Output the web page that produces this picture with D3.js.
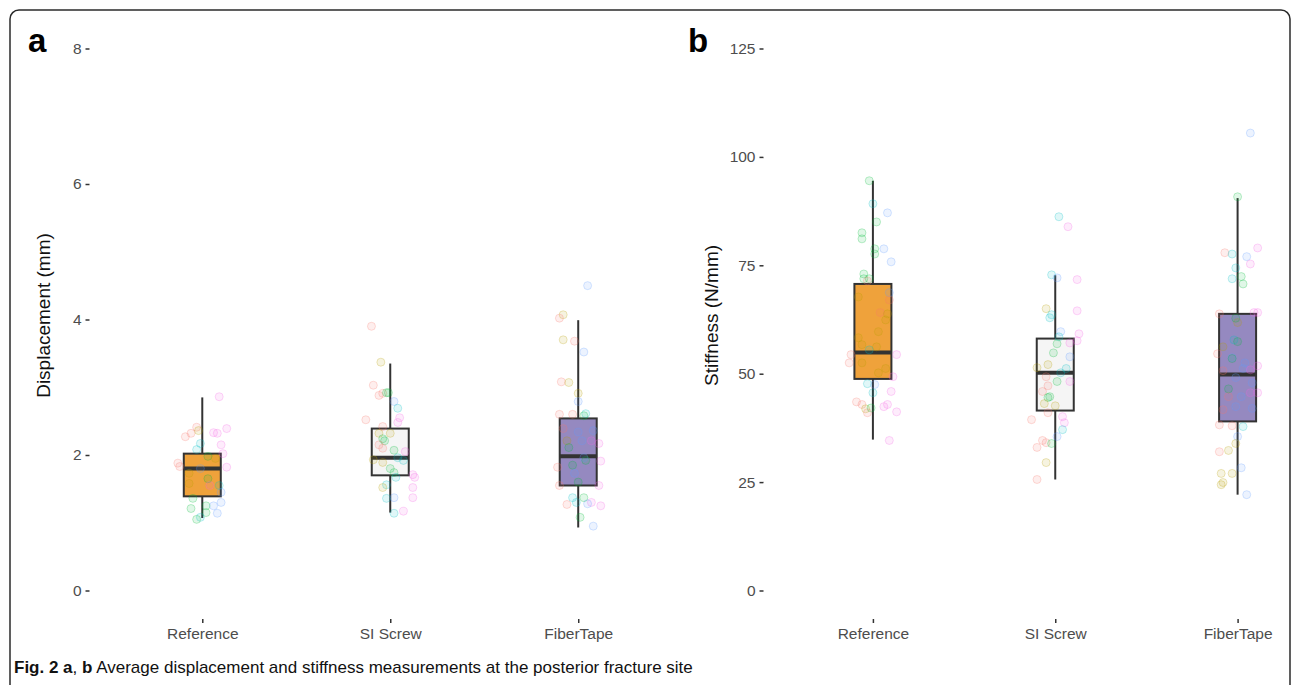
<!DOCTYPE html>
<html>
<head>
<meta charset="utf-8">
<script src="https://cdn.jsdelivr.net/npm/d3@7"></script>
<style>
  body { margin: 0; background: #fff; }
  svg { display: block; font-family: "Liberation Sans", Arial, sans-serif; }
</style>
</head>
<body>
<svg id="chart" width="1292" height="685"></svg>
<script>
const groups = ["Reference", "SI Screw", "FiberTape"];
const groupFills = ["#efa23b", "#f5f5f5", "#9589c0"];
const pointColors = ["#F8766D", "#B79F00", "#00BA38", "#00BFC4", "#619CFF", "#F564E3"];

const displacementTicks = [0, 2, 4, 6, 8];
const stiffnessTicks = [0, 25, 50, 75, 100, 125];

// box stats: [lower whisker, q1, median, q3, upper whisker]
const displacementBoxes = [
  [1.07, 1.39, 1.80, 2.02, 2.85],
  [1.15, 1.70, 1.96, 2.39, 3.35],
  [0.93, 1.55, 1.98, 2.54, 3.99]
];
const stiffnessBoxes = [
  [34.8, 48.8, 54.9, 70.7, 94.5],
  [25.6, 41.5, 50.2, 58.1, 72.7],
  [22.1, 39.0, 49.8, 63.8, 90.5]
];

// points: [value, jitter (share of category step), colour index]
const displacementReference = [
  [2.86, .09, 5], [2.41, -.03, 0], [2.27, -.09, 0], [2.32, -.06, 0], [2.36, -.02, 1],
  [2.33, .06, 5], [2.32, .08, 5], [2.39, .13, 5], [2.17, -.01, 3], [2.15, .10, 5],
  [2.08, -.03, 3], [2.02, .11, 5], [1.98, .03, 2], [1.95, .07, 1], [1.88, -.13, 0],
  [1.83, -.12, 0], [1.82, .13, 5], [1.80, -.01, 4], [1.73, -.07, 1], [1.65, .03, 2],
  [1.55, .04, 5], [1.55, .09, 3], [1.45, .10, 4], [1.58, -.07, 1], [1.36, -.05, 2],
  [1.30, .10, 4], [1.25, .06, 4], [1.21, -.06, 2], [1.25, .02, 2], [1.15, .02, 2],
  [1.14, .08, 4], [1.08, -.01, 3], [1.05, -.03, 2]
];
const displacementScrew = [
  [3.90, -.10, 0], [3.37, -.05, 1], [3.03, -.09, 0], [2.88, -.06, 0], [2.91, -.04, 0],
  [2.92, -.02, 2], [2.92, -.01, 2], [2.79, .02, 4], [2.69, .04, 3], [2.55, .05, 5],
  [2.52, -.13, 0], [2.48, .04, 5], [2.42, -.04, 0], [2.32, -.06, 1], [2.32, 0, 1],
  [2.24, -.04, 2], [2.21, -.03, 2], [2.15, -.06, 0], [2.10, -.04, 0], [2.07, .02, 2],
  [2.05, .08, 5], [1.93, -.09, 1], [1.89, -.04, 1], [1.96, .04, 3], [1.92, .07, 3],
  [1.80, 0, 2], [1.74, .02, 2], [1.67, .03, 3], [1.71, .12, 5], [1.67, .13, 5],
  [1.56, -.02, 3], [1.52, -.04, 1], [1.52, .12, 5], [1.36, -.02, 3], [1.37, .02, 4],
  [1.37, .12, 5], [1.17, .07, 5], [1.14, .02, 3]
];
const displacementTape = [
  [4.50, .05, 4], [4.07, -.08, 1], [4.02, -.10, 0], [3.70, -.08, 1], [3.68, -.02, 0],
  [3.52, .03, 4], [3.08, -.09, 0], [3.07, -.05, 1], [2.91, 0, 1], [2.79, 0, 4],
  [2.60, -.10, 0], [2.60, -.03, 0], [2.61, .04, 3], [2.58, .03, 2], [2.39, -.08, 0],
  [2.34, 0, 4], [2.36, .08, 4], [2.21, -.06, 1], [2.21, .02, 4], [2.17, .11, 5],
  [2.21, .07, 5], [2.11, -.05, 2], [1.96, .03, 4], [1.92, .04, 2], [1.91, .12, 5],
  [1.82, -.11, 0], [1.85, -.03, 2], [1.73, -.02, 4], [1.60, 0, 2], [1.55, -.10, 0],
  [1.55, .11, 5], [1.37, -.03, 3], [1.37, .03, 2], [1.30, -.01, 3], [1.30, .07, 5],
  [1.27, -.06, 0], [1.28, .05, 4], [1.25, .12, 5], [1.08, .01, 2], [0.95, .08, 4]
];

const stiffnessReference = [
  [94.5, -.02, 2], [89.2, 0, 3], [87.1, .08, 4], [85.0, .02, 2], [82.5, -.06, 2],
  [81.1, -.06, 2], [78.8, .01, 2], [78.8, .06, 4], [77.6, .01, 2], [75.8, .10, 4],
  [73.0, -.05, 2], [71.9, -.05, 2], [71.9, -.02, 2], [71.4, -.03, 0], [68.7, .09, 4],
  [67.7, -.08, 1], [67.0, .09, 0], [64.1, .04, 0], [63.8, .08, 1], [62.4, .07, 1],
  [59.7, .03, 1], [58.3, -.08, 1], [56.7, -.06, 1], [56.2, .02, 1], [55.5, -.02, 3],
  [54.4, -.12, 0], [54.4, .13, 5], [52.5, -.13, 0], [52.5, -.06, 1], [51.2, .07, 1],
  [50.2, .03, 1], [49.3, .11, 5], [47.7, -.03, 3], [47.5, .01, 4], [45.6, 0, 3],
  [45.9, .10, 5], [43.5, -.09, 0], [42.9, -.06, 0], [42.9, .08, 5], [42.4, .06, 5],
  [41.9, -.04, 1], [42.1, -.01, 2], [41.0, -.03, 0], [41.2, .13, 5], [34.6, .09, 5]
];
const stiffnessScrew = [
  [86.2, .02, 3], [83.9, .07, 5], [72.8, -.02, 3], [72.1, .01, 4], [71.7, .12, 5],
  [65.0, -.05, 1], [64.5, .12, 5], [63.6, -.02, 3], [62.9, -.03, 3], [59.7, .03, 4],
  [59.2, .13, 5], [58.5, .02, 3], [57.6, .12, 5], [57.1, .08, 5], [56.9, .01, 2],
  [54.8, -.01, 2], [53.9, .08, 4], [51.4, -.10, 1], [52.1, -.04, 1], [51.2, .06, 3],
  [50.2, .03, 3], [49.3, -.05, 0], [48.2, .08, 5], [48.2, .01, 2], [47.2, -.04, 0],
  [45.9, -.07, 0], [44.7, -.03, 2], [44.5, -.04, 2], [43.1, -.06, 1], [42.6, 0, 1],
  [41.0, -.04, 0], [40.1, .04, 5], [38.7, .05, 5], [39.4, -.13, 0], [37.1, .04, 3],
  [35.5, .01, 4], [34.6, -.07, 0], [34.1, -.05, 0], [33.9, -.02, 2], [33.0, -.10, 0],
  [29.5, -.05, 1], [25.6, -.10, 0]
];
const stiffnessTape = [
  [105.5, .07, 4], [90.8, 0, 2], [79.0, .11, 5], [77.9, -.07, 0], [77.6, -.03, 3],
  [77.0, .05, 4], [75.3, .07, 5], [74.4, -.01, 3], [72.4, .02, 2], [71.9, -.03, 3],
  [70.7, .03, 2], [63.8, -.10, 0], [64.1, .11, 5], [64.1, .09, 5], [61.8, 0, 1],
  [62.8, -.01, 2], [56.2, -.08, 1], [54.6, -.11, 0], [57.8, -.02, 3], [57.4, 0, 2],
  [53.7, -.03, 4], [53.5, -.03, 2], [52.5, .04, 4], [51.8, .11, 5], [51.2, .03, 4],
  [50.7, -.08, 0], [50.9, .07, 5], [49.1, -.01, 4], [47.9, .08, 4], [46.5, -.05, 2],
  [45.6, .11, 5], [45.6, .07, 5], [44.7, -.05, 0], [44.7, .02, 4], [42.4, -.01, 4],
  [41.7, -.08, 0], [42.0, .08, 4], [38.2, -.10, 0], [38.0, -.03, 0], [37.8, .03, 3],
  [35.5, 0, 4], [33.9, -.01, 1], [32.0, -.10, 0], [32.3, -.05, 1], [28.3, .02, 4],
  [27.0, -.09, 1], [27.0, -.03, 1], [24.9, -.08, 1], [24.4, -.09, 1], [22.1, .05, 4]
];

const svg = d3.select("#chart");

// outer frame
svg.append("rect")
  .attr("x", 10).attr("y", 10)
  .attr("width", 1280).attr("height", 700)
  .attr("rx", 9)
  .attr("fill", "none")
  .attr("stroke", "#2b2b2b")
  .attr("stroke-width", 1.5);

function drawPanel(cfg) {
  const x = d3.scalePoint().domain(groups).range(cfg.xRange).padding(0.6);
  const y = d3.scaleLinear().domain(cfg.yDomain).range([590.5, 48.5]);
  const g = svg.append("g");
  const boxW = 37;

  // y axis (ticks only, no line)
  const yAxis = g.append("g")
    .attr("transform", `translate(${cfg.xRange[0]},0)`)
    .call(d3.axisLeft(y).tickValues(cfg.ticks).tickSize(4).tickPadding(4));
  yAxis.select(".domain").remove();
  yAxis.selectAll(".tick line").attr("stroke", "#333").attr("stroke-width", 1.5);
  yAxis.selectAll(".tick text").attr("fill", "#4d4d4d").style("font-size", "15.5px")
    .style("font-family", "Liberation Sans, Arial, sans-serif");

  // x axis
  const xAxis = g.append("g")
    .attr("transform", "translate(0,619)")
    .call(d3.axisBottom(x).tickSize(4).tickPadding(5));
  xAxis.select(".domain").remove();
  xAxis.selectAll(".tick line").attr("stroke", "#333").attr("stroke-width", 1.5);
  xAxis.selectAll(".tick text").attr("fill", "#4d4d4d").style("font-size", "15.5px")
    .style("font-family", "Liberation Sans, Arial, sans-serif");

  // boxes
  const boxes = g.append("g").selectAll("g").data(cfg.boxes).join("g")
    .attr("transform", (d, i) => `translate(${x(groups[i])},0)`);

  boxes.append("line")
    .attr("y1", d => y(d[0])).attr("y2", d => y(d[1]))
    .attr("stroke", "#333").attr("stroke-width", 2);
  boxes.append("line")
    .attr("y1", d => y(d[3])).attr("y2", d => y(d[4]))
    .attr("stroke", "#333").attr("stroke-width", 2);
  boxes.append("rect")
    .attr("x", -boxW / 2).attr("width", boxW)
    .attr("y", d => y(d[3]))
    .attr("height", d => y(d[1]) - y(d[3]))
    .attr("fill", (d, i) => groupFills[i])
    .attr("stroke", "#333").attr("stroke-width", 2);
  boxes.append("line")
    .attr("x1", -boxW / 2).attr("x2", boxW / 2)
    .attr("y1", d => y(d[2])).attr("y2", d => y(d[2]))
    .attr("stroke", "#333").attr("stroke-width", 4);

  // jittered points
  const step = x.step();
  cfg.points.forEach((pts, i) => {
    g.append("g").selectAll("circle").data(pts).join("circle")
      .attr("cx", d => x(groups[i]) + d[1] * step)
      .attr("cy", d => y(d[0]))
      .attr("r", 4)
      .attr("fill", d => pointColors[d[2]])
      .attr("fill-opacity", 0.12)
      .attr("stroke", d => pointColors[d[2]])
      .attr("stroke-opacity", 0.25)
      .attr("stroke-width", 1);
  });

  // axis title
  g.append("text")
    .attr("transform", `translate(${cfg.titleX},${(y.range()[0] + y.range()[1]) / 2 - 4}) rotate(-90)`)
    .attr("text-anchor", "middle")
    .attr("fill", "#111")
    .style("font-size", "19px")
    .text(cfg.title);

  // panel letter
  g.append("text")
    .attr("x", cfg.letterX).attr("y", 52)
    .attr("fill", "#000")
    .style("font-size", "33px").style("font-weight", "bold")
    .text(cfg.letter);
}

drawPanel({
  xRange: [89.5, 691],
  yDomain: [0, 8],
  ticks: displacementTicks,
  boxes: displacementBoxes,
  points: [displacementReference, displacementScrew, displacementTape],
  title: "Displacement (mm)",
  titleX: 50,
  letter: "a",
  letterX: 28
});

drawPanel({
  xRange: [763.5, 1347],
  yDomain: [0, 125],
  ticks: stiffnessTicks,
  boxes: stiffnessBoxes,
  points: [stiffnessReference, stiffnessScrew, stiffnessTape],
  title: "Stiffness (N/mm)",
  titleX: 718,
  letter: "b",
  letterX: 688
});

// caption
const caption = svg.append("text")
  .attr("x", 14).attr("y", 673)
  .attr("fill", "#111")
  .style("font-size", "17px");
caption.append("tspan").style("font-weight", "bold").text("Fig. 2 a");
caption.append("tspan").text(", ");
caption.append("tspan").style("font-weight", "bold").text("b");
caption.append("tspan").text(" Average displacement and stiffness measurements at the posterior fracture site");
</script>
</body>
</html>
